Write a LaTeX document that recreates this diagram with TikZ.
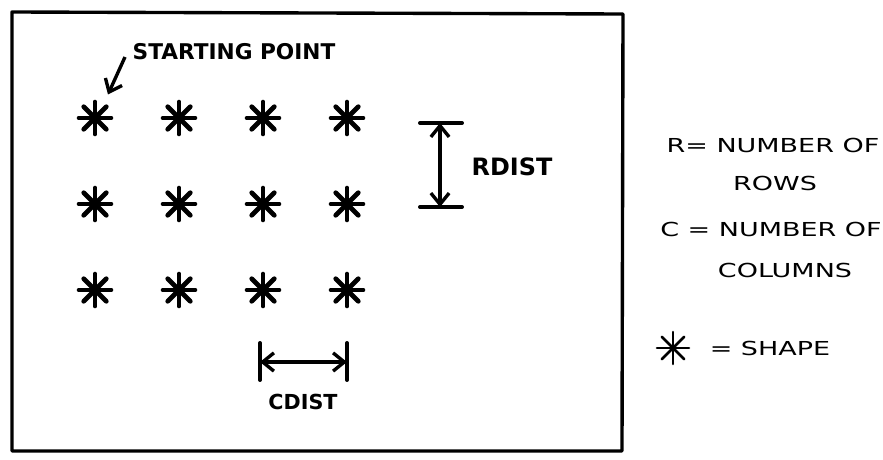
\documentclass[tikz,border=0pt]{standalone}
\usepackage{fontspec}
\usepackage{tikz}
\usetikzlibrary{arrows.meta, calc, positioning}
\newfontfamily\handfont[FakeStretch=1.4]{DejaVu Sans}
\newfontfamily\markfont{DejaVu Sans}
\tikzset{
  %% -- one asterisk of the grid (arg = stroke width) --
  GR/star/.style={
    circle, minimum size=1.05cm, inner sep=0pt,
    path picture={
      \foreach \a in {0,45,90,135}
        \draw[line width=#1, line cap=round]
          ($(path picture bounding box.center)+(\a:0.4cm)$) --
          ($(path picture bounding box.center)+(\a+180:0.4cm)$);
    }
  },
  GR/star/.default=3.3pt,
  %% -- bold hand label inside the frame --
  GR/lbl/.style={
    inner sep=0pt,
    font=\markfont\bfseries\fontsize{15.4pt}{17pt}\selectfont
  },
  %% -- key text right of the frame --
  GR/key/.style={
    inner sep=0pt,
    font=\handfont\fontsize{13.7pt}{16pt}\selectfont
  },
  %% -- frame, end bars, arrows --
  GR/frame/.style={line width=2.4pt, line cap=round, line join=round},
  GR/bar/.style={line width=2.8pt, line cap=round},
  GR/dim/.style={
    {Straight Barb[length=8pt, width=13pt]}-{Straight Barb[length=8pt, width=13pt]},
    line width=2.4pt
  },
  GR/ptr/.style={-{Straight Barb[length=8pt, width=13pt]}, line width=2.4pt},
}
\begin{document}
\begin{tikzpicture}[x=0.025cm, y=-0.025cm]

\useasboundingbox (0,0) rectangle (883,460);

%% ── Frame ──────────────────────────────────────────────────────────────────
\draw[GR/frame] (12,12) -- (623,14) -- (622,451) -- (12,451) -- cycle;

%% ── Grid of shapes: 3 rows x 4 columns ─────────────────────────────────────
\foreach \r in {1,2,3}
  \foreach \c in {1,2,3,4}
    \node[GR/star] (s-\r-\c) at ({95+84*(\c-1)}, {118+86*(\r-1)}) {};

%% ── Starting point ─────────────────────────────────────────────────────────
\node[GR/lbl] (start) at (234,52) {STARTING POINT};
\coordinate (ptrtail) at (125,57);
\draw[GR/ptr, shorten >=4pt] (ptrtail) -- (s-1-1.60);

%% ── Row distance ───────────────────────────────────────────────────────────
\coordinate (rtop) at (440,123);
\coordinate (rbot) at (440,207);
\draw[GR/bar] ($(rtop)+(-20,0)$) -- ($(rtop)+(22,0)$);
\draw[GR/bar] ($(rbot)+(-20,0)$) -- ($(rbot)+(22,0)$);
\draw[GR/dim] (rtop) -- (rbot);
\node[GR/lbl, font=\markfont\bfseries\fontsize{17pt}{19pt}\selectfont]
  (rlbl) at (512,167) {RDIST};

%% ── Column distance ────────────────────────────────────────────────────────
\coordinate (cl) at (260,362);
\coordinate (cr) at (347,362);
\draw[GR/bar] ($(cl)+(0,-19)$) -- ($(cl)+(0,18)$);
\draw[GR/bar] ($(cr)+(0,-19)$) -- ($(cr)+(0,18)$);
\draw[GR/dim] (cl) -- (cr);
\node[GR/lbl, font=\markfont\bfseries\fontsize{14.7pt}{16pt}\selectfont]
  (clbl) at (303,402) {CDIST};

%% ── Key ────────────────────────────────────────────────────────────────────
\node[GR/key] (krows)  at (773,145) {R= NUMBER OF};
\node[GR/key] (krows2) at (775,183) {ROWS};
\node[GR/key] (kcols)  at (771,229) {C = NUMBER OF};
\node[GR/key] (kcols2) at (785,270) {COLUMNS};
\node[GR/star=1.8pt] (kstar) at (673,348) {};
\node[GR/key] (kshape) at (770,348) {= SHAPE};

\end{tikzpicture}
\end{document}
